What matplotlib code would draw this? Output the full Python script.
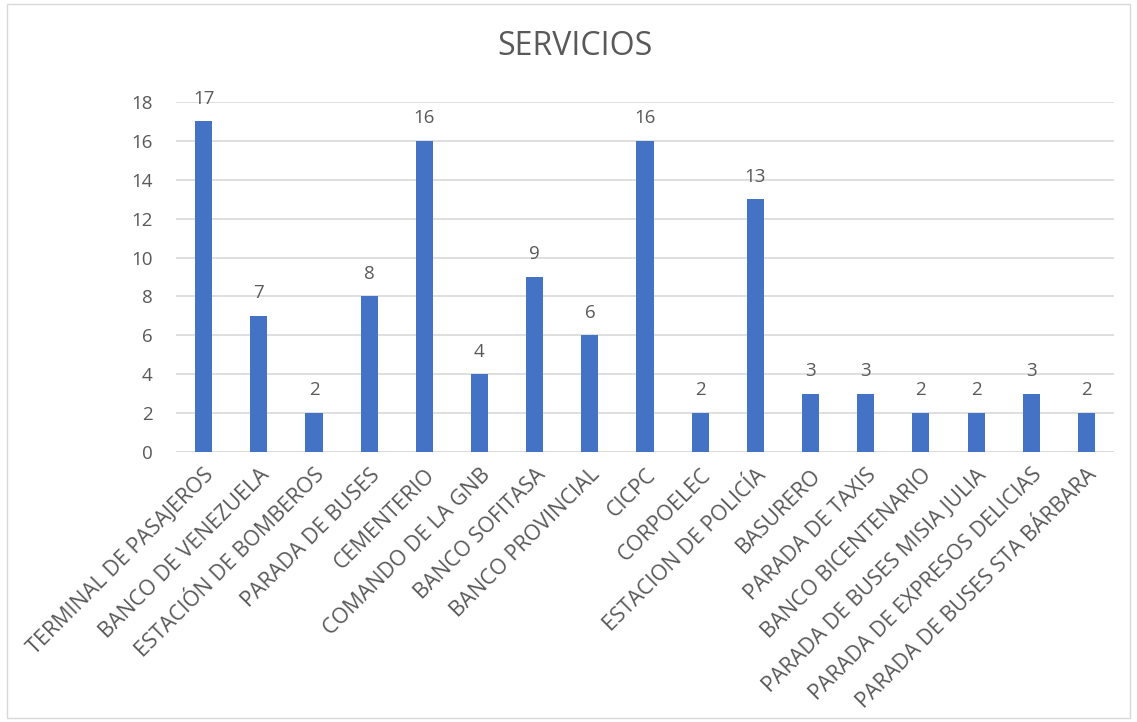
import matplotlib.pyplot as plt
from matplotlib.patches import Rectangle

categorias = ["TERMINAL DE PASAJEROS", "BANCO DE VENEZUELA", "ESTACIÓN DE BOMBEROS",
              "PARADA DE BUSES", "CEMENTERIO", "COMANDO DE LA GNB", "BANCO SOFITASA",
              "BANCO PROVINCIAL", "CICPC", "CORPOELEC", "ESTACION DE POLICÍA",
              "BASURERO", "PARADA DE TAXIS", "BANCO BICENTENARIO",
              "PARADA DE BUSES MISIA JULIA", "PARADA DE EXPRESOS DELICIAS",
              "PARADA DE BUSES STA BÁRBARA"]
valores = [17, 7, 2, 8, 16, 4, 9, 6, 16, 2, 13, 3, 3, 2, 2, 3, 2]
yticks = [0, 2, 4, 6, 8, 10, 12, 14, 16, 18]

gris = "#595959"
azul = "#4472C4"
plt.rcParams['font.family'] = ['Open Sans', 'DejaVu Sans']

fig = plt.figure(figsize=(11.37, 7.22), dpi=100)
fig.patches.append(Rectangle((0.006, 0.006), 0.988, 0.988, transform=fig.transFigure,
                             fill=False, edgecolor="#d9d9d9", linewidth=1))
ax = fig.add_axes([0.1548, 0.374, 0.825, 0.4847])

x = range(len(categorias))
barras = ax.bar(x, valores, width=0.31, color=azul, zorder=3)
for b, v in zip(barras, valores):
    ax.text(b.get_x() + b.get_width() / 2, v + 0.7, str(v), ha='center', va='bottom',
            fontsize=13.5, color=gris)

ax.set_xlim(-0.5, len(categorias) - 0.5)
ax.set_ylim(0, 18)
ax.set_yticks(yticks)
ax.set_yticklabels([str(t) for t in yticks], fontsize=13.5, color=gris)
ax.set_xticks(list(x))
ax.set_xticklabels(categorias, rotation=45, ha='right', rotation_mode='anchor',
                   fontsize=15.5, color=gris)
ax.tick_params(axis='both', length=0)
ax.tick_params(axis='y', pad=17)
ax.tick_params(axis='x', pad=9)
ax.grid(axis='y', color="#d9d9d9", linewidth=1.2, zorder=0)
for s in ax.spines.values():
    s.set_visible(False)
ax.axhline(0, color="#d9d9d9", linewidth=1.2, zorder=1)

fig.text(0.506, 0.935, "SERVICIOS", ha='center', va='center', fontsize=23, color=gris)

fig.savefig("out.png", dpi=100)
